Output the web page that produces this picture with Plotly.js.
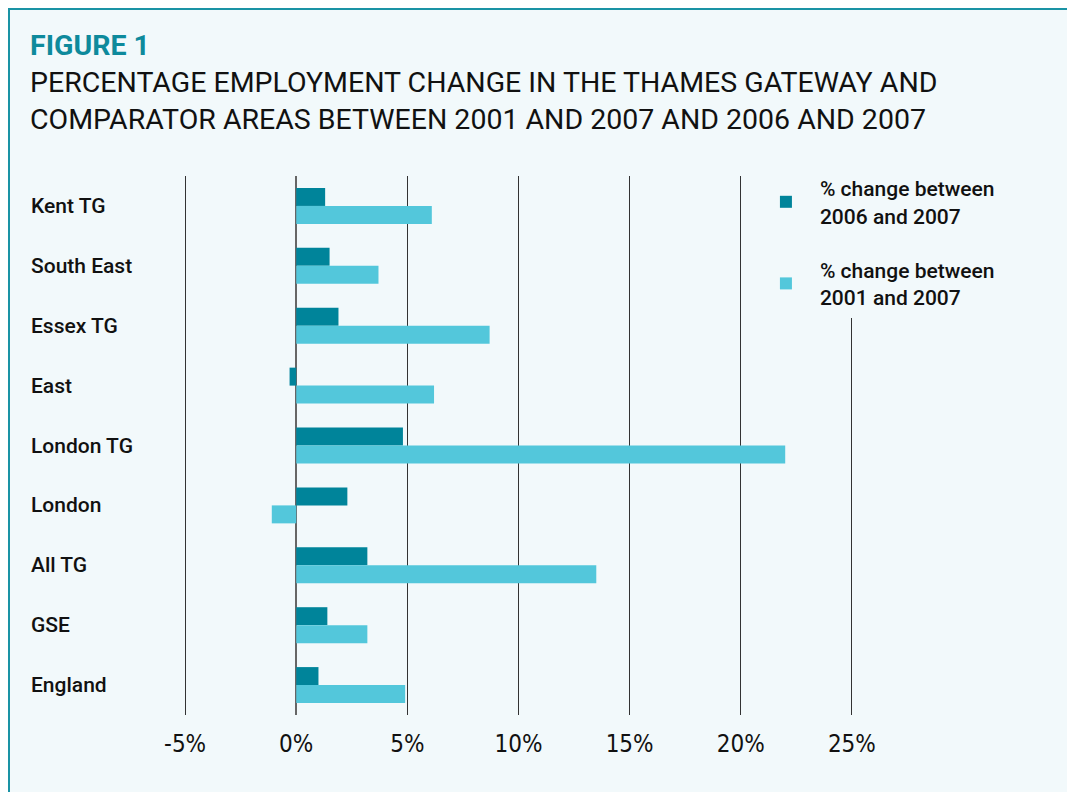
<!DOCTYPE html>
<html>
<head>
<meta charset="utf-8">
<script src="https://cdn.plot.ly/plotly-3.0.1.min.js"></script>
<style>
  html, body { margin: 0; padding: 0; background: #ffffff; }
  #frame { position: absolute; left: 8px; top: 8px; width: 1059px; height: 784px;
           background: #f2f9fb; border-top: 2px solid #1a93a5; border-left: 2px solid #1a93a5; box-sizing: border-box; }
  #chart { position: absolute; left: 0; top: 0; width: 1067px; height: 792px; }
</style>
</head>
<body>
<div id="frame"></div>
<div id="chart"></div>
<script>
const categories = ["Kent TG", "South East", "Essex TG", "East", "London TG", "London", "All TG", "GSE", "England"];
const change2006to2007 = [1.3, 1.5, 1.9, -0.3, 4.8, 2.3, 3.2, 1.4, 1.0];
const change2001to2007 = [6.1, 3.7, 8.7, 6.2, 22.0, -1.1, 13.5, 3.2, 4.9];
const seriesNames = ["% change between<br>2006 and 2007", "% change between<br>2001 and 2007"];
const tickValues = [-5, 0, 5, 10, 15, 20, 25];
const tickLabels = ["-5%", "0%", "5%", "10%", "15%", "20%", "25%"];

const BG = "#f2f9fb";
const DARK = "#00849a";
const LIGHT = "#53c7db";
const BODY_FONT = "Roboto, 'Open Sans', sans-serif";

const traces = [
  { type: "bar", orientation: "h", name: seriesNames[0], legendgroup: "a", y: categories, x: change2006to2007,
    marker: { color: DARK }, hoverinfo: "x+y" },
  { type: "bar", orientation: "h", name: seriesNames[1], legendgroup: "b", y: categories, x: change2001to2007,
    marker: { color: LIGHT }, hoverinfo: "x+y" }
];

const labelX = (29 - 173.9) / 689.2;

const annotations = categories.map(c => ({
  xref: "paper", yref: "y", x: labelX, y: c, xanchor: "left", yanchor: "middle",
  text: c, showarrow: false, font: { family: BODY_FONT, size: 21, color: "#111", weight: 500 }
}));

const layout = {
  width: 1067, height: 792,
  paper_bgcolor: "rgba(0,0,0,0)", plot_bgcolor: "rgba(0,0,0,0)",
  margin: { l: 174, r: 204, t: 176, b: 77 },
  barmode: "group", bargap: 0.4, bargroupgap: 0,
  title: {
    text: "<b><span style='color:#0e8a9c'>FIGURE 1</span></b><br>PERCENTAGE EMPLOYMENT CHANGE IN THE THAMES GATEWAY AND<br>COMPARATOR AREAS BETWEEN 2001 AND 2007 AND 2006 AND 2007",
    font: { family: BODY_FONT, size: 28.5, color: "#111" },
    xref: "container", yref: "container", x: 30 / 1067, xanchor: "left",
    y: 1 - 55 / 792, yanchor: "top"
  },
  xaxis: {
    range: [-5.5, 25.5], tickvals: tickValues, ticktext: tickLabels,
    showgrid: true, gridcolor: "#333", gridwidth: 1,
    zeroline: true, zerolinecolor: "#666", zerolinewidth: 2,
    showline: false, ticks: "", ticklabelstandoff: 12,
    tickfont: { family: "'Liberation Sans Narrow', 'DejaVu Sans Condensed', sans-serif", size: 24, color: "#111" },
    fixedrange: true
  },
  yaxis: {
    autorange: "reversed", showticklabels: false, showgrid: false, zeroline: false,
    ticks: "", fixedrange: true
  },
  legend: {
    x: (752 - 173.9) / 689.2, xanchor: "left", y: (715 - 168) / 539, yanchor: "top",
    bgcolor: BG, borderwidth: 0, traceorder: "grouped", tracegroupgap: 24,
    font: { family: BODY_FONT, size: 21, color: "#111", weight: 500 },
    itemwidth: 58
  },
  annotations: annotations,
  showlegend: true
};

Plotly.newPlot("chart", traces, layout, { displayModeBar: false, staticPlot: true });
</script>
</body>
</html>
